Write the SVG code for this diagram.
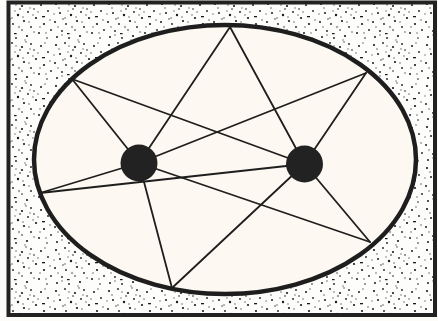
<svg xmlns="http://www.w3.org/2000/svg" width="438" height="321" viewBox="0 0 438 321">
<style>
.frame{fill:url(#stipple);stroke:#222;stroke-width:4}
.ellipse{fill:#fdf8f1;stroke:#1e1e1e;stroke-width:4.5}
.ray{stroke:#1e1e1e;stroke-width:1.8;fill:none;stroke-linecap:round}
.focus{fill:#222}
.b{fill:#1a1a1a}
.g{fill:#a8a8a8}
</style>
<defs>
<pattern id="stipple" patternUnits="userSpaceOnUse" width="53" height="41">
<rect width="53" height="41" fill="#fdfdfb"/>
<circle class="b" cx="3" cy="4" r="1.1"/><circle class="b" cx="12" cy="2" r="0.9"/>
<circle class="b" cx="22" cy="6" r="1.1"/><circle class="b" cx="31" cy="3" r="0.9"/>
<circle class="b" cx="7" cy="13" r="1"/><circle class="b" cx="18" cy="15" r="1.2"/>
<circle class="b" cx="28" cy="12" r="0.9"/><circle class="b" cx="36" cy="18" r="1.1"/>
<circle class="b" cx="2" cy="22" r="1"/><circle class="b" cx="13" cy="24" r="0.9"/>
<circle class="b" cx="24" cy="21" r="1.1"/><circle class="b" cx="31" cy="27" r="0.9"/>
<circle class="b" cx="9" cy="31" r="0.9"/><circle class="b" cx="20" cy="9" r="0.8"/>
<circle class="b" cx="41" cy="5" r="1"/><circle class="b" cx="48" cy="11" r="0.9"/>
<circle class="b" cx="44" cy="24" r="1.1"/><circle class="b" cx="51" cy="30" r="0.9"/>
<circle class="b" cx="39" cy="33" r="1"/><circle class="b" cx="27" cy="36" r="1.1"/>
<circle class="b" cx="16" cy="38" r="0.9"/><circle class="b" cx="4" cy="37" r="1"/>
<circle class="b" cx="47" cy="38" r="0.8"/><circle class="b" cx="34" cy="9" r="0.8"/>
<circle class="b" cx="22" cy="30" r="0.8"/><circle class="b" cx="10" cy="19" r="0.7"/>
<rect class="b" x="42" y="16" width="3" height="1.3"/><rect class="b" x="14" y="33" width="2.6" height="1.2"/>
<circle class="g" cx="6" cy="8" r="1.1"/><circle class="g" cx="16" cy="5" r="1"/>
<circle class="g" cx="26" cy="1" r="1.1"/><circle class="g" cx="38" cy="12" r="1"/>
<circle class="g" cx="12" cy="18" r="1.1"/><circle class="g" cx="19" cy="27" r="1.2"/>
<circle class="g" cx="29" cy="22" r="1"/><circle class="g" cx="5" cy="27" r="1"/>
<circle class="g" cx="15" cy="11" r="0.9"/><circle class="g" cx="33" cy="15" r="1"/>
<circle class="g" cx="23" cy="17" r="1"/><circle class="g" cx="45" cy="2" r="1"/>
<circle class="g" cx="50" cy="20" r="1.1"/><circle class="g" cx="40" cy="27" r="1"/>
<circle class="g" cx="34" cy="32" r="1.1"/><circle class="g" cx="46" cy="33" r="1"/>
<circle class="g" cx="9" cy="35" r="1"/><circle class="g" cx="25" cy="40" r="0.9"/>
<circle class="g" cx="1" cy="14" r="0.9"/><circle class="g" cx="30" cy="8" r="0.9"/>
</pattern>
</defs>
<rect width="438" height="321" fill="#fdfcf9"/>
<g id="frame">
<rect class="frame" x="8.5" y="2.5" width="426.5" height="312.5"/>
</g>
<g id="ellipse">
<ellipse class="ellipse" cx="225" cy="159.5" rx="191" ry="134.5"/>
</g>
<g id="connectors">
<line class="ray" x1="230" y1="27" x2="139" y2="163"/>
<line class="ray" x1="230" y1="27" x2="304.5" y2="164"/>
<line class="ray" x1="72" y1="79" x2="139" y2="163"/>
<line class="ray" x1="72" y1="79" x2="304.5" y2="164"/>
<line class="ray" x1="366" y1="73" x2="139" y2="163"/>
<line class="ray" x1="366" y1="73" x2="304.5" y2="164"/>
<line class="ray" x1="40" y1="193" x2="139" y2="163"/>
<line class="ray" x1="40" y1="193" x2="304.5" y2="164"/>
<line class="ray" x1="172" y1="288" x2="139" y2="163"/>
<line class="ray" x1="172" y1="288" x2="304.5" y2="164"/>
<line class="ray" x1="370" y1="242" x2="139" y2="163"/>
<line class="ray" x1="370" y1="242" x2="304.5" y2="164"/>
</g>
<g id="focus-left"><circle class="focus" cx="139" cy="163" r="18.5"/></g>
<g id="focus-right"><circle class="focus" cx="304.5" cy="164" r="18.5"/></g>
</svg>
